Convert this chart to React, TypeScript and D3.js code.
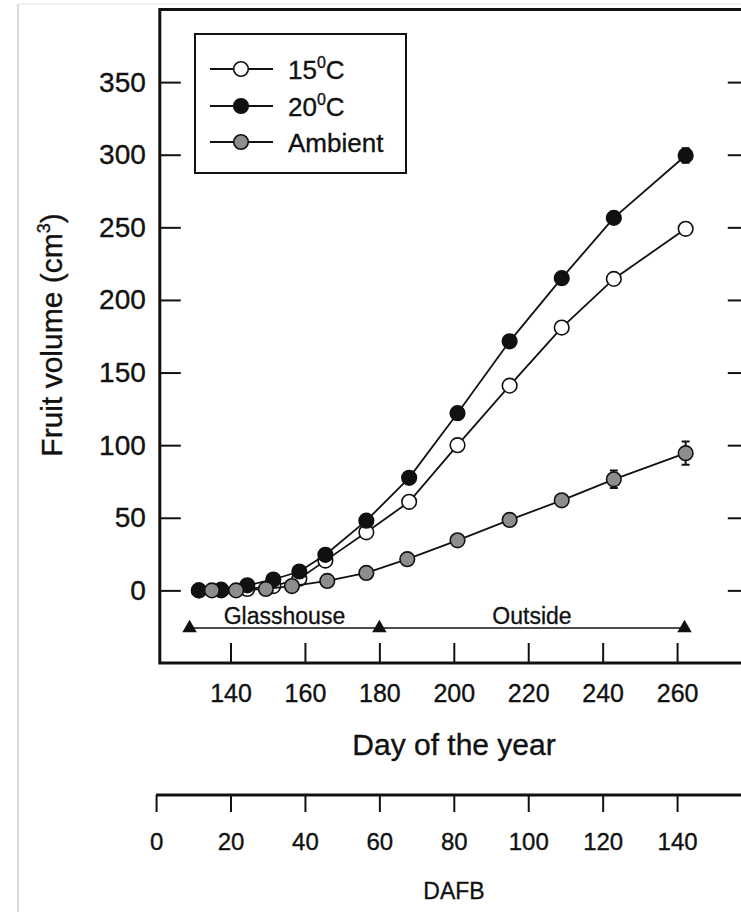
import React, { useEffect, useRef } from 'react';
import * as d3 from 'd3';

// sampling days (day of the year)
const daysHeated = [131.5, 137.5, 144.5, 151.5, 158.5, 165.5, 176.5, 188, 201, 215, 229, 243, 262.3];
const daysAmbient = [135, 141.5, 149.5, 156.5, 166, 176.5, 187.5, 201, 215, 229, 243, 262.3];

// fruit volume (cm3)
const vol15 = [0, 0, 1, 3, 8, 20.5, 40, 61, 100, 141, 181, 214.5, 249];
const vol20 = [0, 0.5, 3.5, 7.5, 13, 24.5, 48, 77.5, 122, 171.5, 215, 256.5, 299.5];
const volAmbient = [0, 0, 1, 3, 6.5, 12, 21.5, 34.5, 48.5, 62, 76.5, 94.5];

const err15 = [0, 0, 0, 0, 0, 0, 1, 1, 1, 2, 2, 2, 3];
const err20 = [0, 0, 0, 0, 0, 0, 1, 1, 1, 2, 2, 3, 5];
const errAmbient = [0, 0, 0, 0, 0, 0, 1, 1, 1, 2, 6, 8];

const yTicks = [0, 50, 100, 150, 200, 250, 300, 350];
const xTicks = [140, 160, 180, 200, 220, 240, 260];
const dafbTicks = [0, 20, 40, 60, 80, 100, 120, 140];

// glasshouse / outside periods
const periodDays = [129, 180, 262];
const periodLabels = ['Glasshouse', 'Outside'];

const legendNames = ['15', '20', 'Ambient'];

const font = '"Liberation Sans", Arial, Helvetica, sans-serif';

function App() {
    const svgRef = useRef(null);

    const width = 741;
    const height = 912;

    useEffect(() => {
        const svg = d3.select(svgRef.current);
        svg.selectAll('*').remove();

        const x = d3.scaleLinear().domain([121, 279]).range([159.8, 747.8]);
        const y = d3.scaleLinear().domain([-50, 400]).range([663, 9.5]);
        const dafb = d3.scaleLinear().domain([0, 140]).range([x(120), x(260)]);

        // page edge of the scan
        svg.append('line')
            .attr('x1', 18).attr('x2', 18).attr('y1', 4).attr('y2', height)
            .attr('stroke', '#cfcfcf').attr('stroke-width', 1.5);
        svg.append('line')
            .attr('x1', 18).attr('x2', width).attr('y1', 4).attr('y2', 4)
            .attr('stroke', '#ececec').attr('stroke-width', 1.5);

        // axes
        const yAxis = d3.axisLeft(y).tickValues(yTicks).tickSize(-21).tickSizeOuter(0).tickPadding(14);
        const yAxisR = d3.axisRight(y).tickValues(yTicks).tickSize(-20).tickSizeOuter(0).tickFormat(() => '');
        const xAxis = d3.axisBottom(x).tickValues(xTicks).tickSize(-20).tickSizeOuter(0).tickPadding(21);
        const dAxis = d3.axisBottom(dafb).tickValues(dafbTicks).tickSize(17).tickSizeOuter(0).tickPadding(21);

        const gy = svg.append('g').attr('transform', 'translate(' + x(121) + ',0)').call(yAxis);
        const gyr = svg.append('g').attr('transform', 'translate(' + x(279) + ',0)').call(yAxisR);
        const gx = svg.append('g').attr('transform', 'translate(0,' + y(-50) + ')').call(xAxis);
        const gd = svg.append('g').attr('transform', 'translate(0,795)').call(dAxis);

        [gy, gyr, gx, gd].forEach(g => {
            g.select('.domain').remove();
            g.selectAll('.tick line').attr('stroke', '#111').attr('stroke-width', 2);
            g.selectAll('.tick text')
                .attr('fill', '#111')
                .attr('stroke', '#111')
                .attr('stroke-width', 0.35)
                .attr('font-family', font);
        });
        gy.selectAll('.tick text').attr('font-size', 28);
        gx.selectAll('.tick text').attr('font-size', 25);
        gd.selectAll('.tick text').attr('font-size', 24);

        // frame
        svg.append('path')
            .attr('d', 'M' + x(279) + ',' + y(400) + 'H' + x(121) + 'V' + y(-50) + 'H' + x(279))
            .attr('fill', 'none').attr('stroke', '#111').attr('stroke-width', 3);
        svg.append('line')
            .attr('x1', dafb(0)).attr('x2', width).attr('y1', 795).attr('y2', 795)
            .attr('stroke', '#111').attr('stroke-width', 3);

        // glasshouse / outside bar
        const py = 628;
        svg.append('line')
            .attr('x1', x(periodDays[0])).attr('x2', x(periodDays[2]))
            .attr('y1', py).attr('y2', py)
            .attr('stroke', '#111').attr('stroke-width', 1.5);
        svg.selectAll('.tri')
            .data(periodDays)
            .join('path')
            .attr('class', 'tri')
            .attr('d', d3.symbol(d3.symbolTriangle, 90))
            .attr('transform', d => 'translate(' + x(d) + ',' + py + ')')
            .attr('fill', '#111');
        svg.selectAll('.period')
            .data(periodLabels)
            .join('text')
            .attr('class', 'period')
            .attr('x', (d, i) => x((periodDays[i] + periodDays[i + 1]) / 2))
            .attr('y', 624)
            .attr('text-anchor', 'middle')
            .attr('font-family', font)
            .attr('font-size', 23)
            .attr('fill', '#111')
            .attr('stroke', '#111')
            .attr('stroke-width', 0.3)
            .text(d => d);

        // series
        const series = [
            { days: daysHeated, vals: vol15, errs: err15, fill: '#fff' },
            { days: daysHeated, vals: vol20, errs: err20, fill: '#111' },
            { days: daysAmbient, vals: volAmbient, errs: errAmbient, fill: '#8d8d8d' },
        ];

        const line = d3.line()
            .x(d => x(d[0]))
            .y(d => y(d[1]));

        series.forEach(s => {
            const pts = s.days.map((d, i) => [d, s.vals[i], s.errs[i]]);
            svg.append('path')
                .datum(pts)
                .attr('d', line)
                .attr('fill', 'none')
                .attr('stroke', '#111')
                .attr('stroke-width', 1.8);

            const eb = svg.append('g');
            pts.filter(p => p[2] > 0).forEach(p => {
                eb.append('path')
                    .attr('d', 'M' + (x(p[0]) - 4) + ',' + y(p[1] + p[2]) + 'h8'
                        + 'M' + x(p[0]) + ',' + y(p[1] + p[2]) + 'V' + y(p[1] - p[2])
                        + 'M' + (x(p[0]) - 4) + ',' + y(p[1] - p[2]) + 'h8')
                    .attr('stroke', '#111').attr('stroke-width', 2).attr('fill', 'none');
            });

            svg.append('g')
                .selectAll('circle')
                .data(pts)
                .join('circle')
                .attr('cx', d => x(d[0]))
                .attr('cy', d => y(d[1]))
                .attr('r', 7.3)
                .attr('fill', s.fill)
                .attr('stroke', '#111')
                .attr('stroke-width', 1.6);
        });

        // legend
        const lg = svg.append('g');
        lg.append('rect')
            .attr('x', 195).attr('y', 34).attr('width', 211).attr('height', 139)
            .attr('fill', '#fff').attr('stroke', '#111').attr('stroke-width', 2);
        const rows = [69, 106, 142];
        legendNames.forEach((name, i) => {
            const ry = rows[i];
            lg.append('line')
                .attr('x1', 210).attr('x2', 273).attr('y1', ry).attr('y2', ry)
                .attr('stroke', '#111').attr('stroke-width', 1.8);
            lg.append('circle')
                .attr('cx', 241).attr('cy', ry).attr('r', 7.3)
                .attr('fill', series[i].fill).attr('stroke', '#111').attr('stroke-width', 1.6);
            const t = lg.append('text')
                .attr('x', 288).attr('y', ry + 10)
                .attr('font-family', font).attr('font-size', 26).attr('fill', '#111')
                .attr('stroke', '#111').attr('stroke-width', 0.35);
            if (name === 'Ambient') {
                t.text(name);
            } else {
                t.append('tspan').text(name);
                t.append('tspan').attr('dy', -11).attr('font-size', 16).text('0');
                t.append('tspan').attr('dy', 11).text('C');
            }
        });

        // axis titles
        const yl = svg.append('text')
            .attr('transform', 'translate(62,335) rotate(-90)')
            .attr('text-anchor', 'middle')
            .attr('font-family', font).attr('font-size', 30).attr('fill', '#111')
            .attr('stroke', '#111').attr('stroke-width', 0.35);
        yl.append('tspan').text('Fruit volume (cm');
        yl.append('tspan').attr('dy', -12).attr('font-size', 18).text('3');
        yl.append('tspan').attr('dy', 12).text(')');

        svg.append('text')
            .attr('x', 454).attr('y', 755)
            .attr('text-anchor', 'middle')
            .attr('font-family', font).attr('font-size', 30).attr('fill', '#111')
            .attr('stroke', '#111').attr('stroke-width', 0.35)
            .text('Day of the year');

        svg.append('text')
            .attr('x', 454).attr('y', 899)
            .attr('text-anchor', 'middle')
            .attr('font-family', font).attr('font-size', 23).attr('fill', '#111')
            .attr('stroke', '#111').attr('stroke-width', 0.3)
            .text('DAFB');
    }, []);

    return (
        <div style={{ position: 'absolute', left: 0, top: 0, background: '#fff' }}>
            <svg ref={svgRef} width={width} height={height} style={{ display: 'block' }}></svg>
        </div>
    );
}

export default App;
